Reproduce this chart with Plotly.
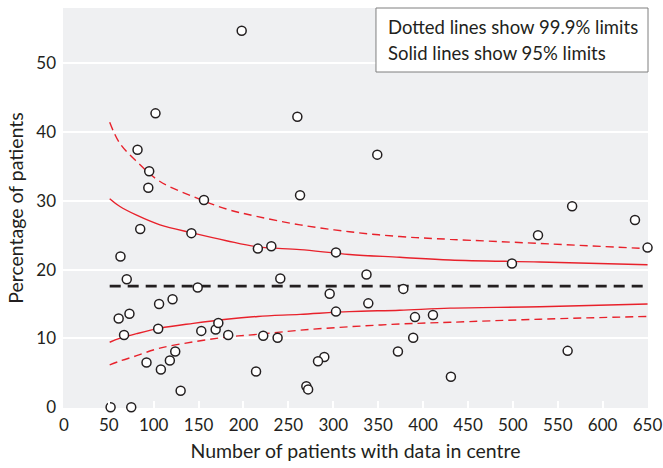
import plotly.graph_objects as go

# Centres: number of patients with data vs percentage of patients
centre_n = [198, 102, 82, 95, 94, 156, 85, 142, 216, 63, 70, 149, 106, 121, 61, 73,
            105, 67, 153, 169, 172, 183, 124, 118, 92, 108, 214, 130, 52, 75,
            260, 349, 263, 231, 303, 241, 337, 378, 296, 339, 303, 391, 411, 222,
            238, 389, 372, 290, 283, 270, 272, 431, 566, 636, 528, 650, 499, 561]
centre_pct = [54.7, 42.7, 37.4, 34.3, 31.9, 30.1, 25.9, 25.3, 23.05, 21.9, 18.6, 17.4,
              15.0, 15.7, 12.9, 13.6, 11.4, 10.5, 11.1, 11.3, 12.25, 10.5, 8.1, 6.8,
              6.5, 5.5, 5.2, 2.4, 0.0, 0.0,
              42.2, 36.7, 30.8, 23.4, 22.5, 18.7, 19.3, 17.2, 16.5, 15.1, 13.9, 13.1,
              13.4, 10.4, 10.1, 10.1, 8.1, 7.3, 6.7, 3.05, 2.6, 4.45, 29.2, 27.2,
              25.0, 23.2, 20.9, 8.2]

overall_pct = 17.6

# Control limits
limit_n = [51, 62, 81, 107, 144, 181, 216, 263, 318, 374, 430, 530, 650]
upper_999 = [41.4, 38.4, 35.7, 32.8, 30.6, 28.8, 27.7, 26.5, 25.5, 24.8, 24.4, 23.8, 23.05]
upper_95 = [30.3, 29.2, 27.9, 26.5, 25.3, 24.2, 23.3, 22.9, 22.2, 21.8, 21.4, 21.1, 20.7]
lower_95 = [9.45, 10.0, 10.7, 11.5, 12.2, 12.8, 13.2, 13.5, 13.9, 14.1, 14.4, 14.6, 15.0]
lower_999 = [6.15, 6.7, 7.5, 8.6, 9.5, 10.2, 10.6, 11.2, 11.7, 12.1, 12.35, 12.8, 13.2]

note_lines = ['Dotted lines show 99.9% limits', 'Solid lines show 95% limits']

red = '#e8212b'
ink = '#231f20'
font_family = 'Lato, Open Sans, sans-serif'

fig = go.Figure()

for ys, dash in [(upper_999, '8px,5px'), (lower_999, '8px,5px'),
                 (upper_95, 'solid'), (lower_95, 'solid')]:
    fig.add_trace(go.Scatter(
        x=limit_n, y=ys, mode='lines', line_shape='spline',
        line=dict(color=red, width=1.4, dash=dash),
        hoverinfo='skip', showlegend=False
    ))

fig.add_trace(go.Scatter(
    x=[limit_n[0], limit_n[-1]], y=[overall_pct, overall_pct], mode='lines',
    line=dict(color=ink, width=2.8, dash='11px,7px'),
    hoverinfo='skip', showlegend=False
))

fig.add_trace(go.Scatter(
    x=centre_n, y=centre_pct, mode='markers',
    marker=dict(size=9, color='white', line=dict(color=ink, width=1.5)),
    cliponaxis=False, showlegend=False
))

# note box in the top right corner
fig.add_shape(type='rect', xref='paper', yref='paper',
              x0=0.535, x1=1.0, y0=0.84, y1=1.0,
              fillcolor='white', line=dict(color='#7f7f7f', width=1), layer='above')
for yy, line in zip([0.953, 0.887], note_lines):
    fig.add_annotation(
        xref='paper', yref='paper', x=0.552, y=yy, xanchor='left', yanchor='middle',
        text=line, showarrow=False, font=dict(size=18.5, color=ink, family=font_family)
    )

fig.update_layout(
    width=663, height=468,
    margin=dict(l=63, r=15, t=8, b=60),
    paper_bgcolor='white',
    plot_bgcolor='#eff0f2',
    font=dict(family=font_family, color=ink, size=17),
    xaxis=dict(
        range=[-1, 650.5], tickvals=list(range(0, 651, 50)),
        showgrid=False, zeroline=False, showline=False,
        ticks='inside', ticklen=7, tickcolor='white', tickwidth=2,
        ticklabelstandoff=5,
        title=dict(text='Number of patients with data in centre', standoff=10,
                   font=dict(size=19.5, family=font_family)),
        automargin=False
    ),
    yaxis=dict(
        range=[-0.1, 58], tickvals=[0, 10, 20, 30, 40, 50],
        showgrid=True, gridcolor='white', gridwidth=2,
        zeroline=False, showline=False, ticks='',
        ticklabelstandoff=6,
        title=dict(text='Percentage of patients', standoff=7,
                   font=dict(size=19.5, family=font_family)),
        automargin=False
    )
)

# drop the default page margin so the figure sits at the window origin
fig.write_html("out.html", config={'displayModeBar': False},
               post_script="document.body.style.margin='0';"
                           "document.body.style.overflow='hidden';")
